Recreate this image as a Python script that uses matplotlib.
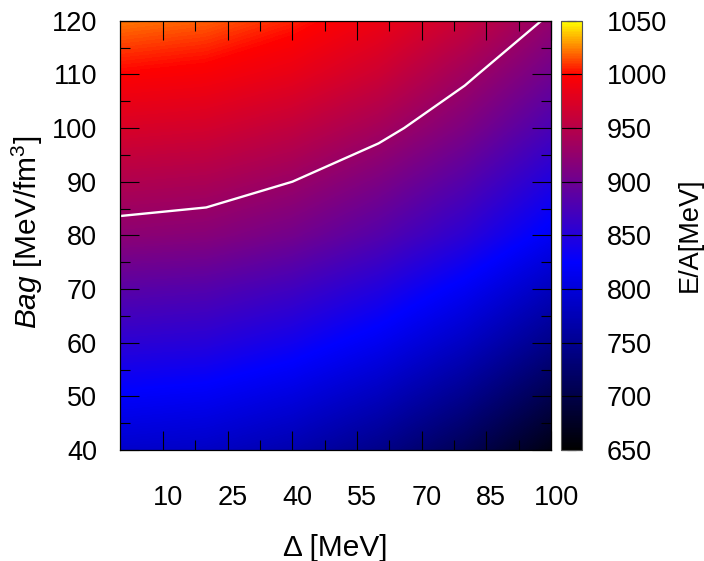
import numpy as np
import matplotlib
matplotlib.use("Agg")
import matplotlib.pyplot as plt
import matplotlib.transforms as mtransforms
from matplotlib.colors import LinearSegmentedColormap

# ---- data ----
delta = [0, 20, 40, 60, 80, 100]                      # Δ [MeV]
bag = [40, 50, 60, 70, 80, 90, 100, 110, 120]         # Bag [MeV/fm^3]
# E/A [MeV], one row per Bag value, columns follow delta
energy_b40 = [790, 785, 770, 745, 709, 664]
energy_b50 = [822, 817, 803, 780, 747, 704]
energy_b60 = [855, 851, 837, 815, 784, 744]
energy_b70 = [886, 882, 869, 848, 818, 780]
energy_b80 = [921, 917, 904, 883, 855, 818]
energy_b90 = [946, 942, 930, 910, 883, 847]
energy_b100 = [973, 969, 957, 938, 911, 876]
energy_b110 = [999, 995, 984, 965, 935, 902]
energy_b120 = [1023, 1018, 1006, 988, 962, 926]
contour_levels = [930]

x_ticks = [10, 25, 40, 55, 70, 85, 100]
y_ticks = [40, 50, 60, 70, 80, 90, 100, 110, 120]
cb_ticks = [650, 700, 750, 800, 850, 900, 950, 1000, 1050]

plt.rcParams['font.family'] = ['Liberation Sans', 'DejaVu Sans']
plt.rcParams['mathtext.fontset'] = 'custom'
plt.rcParams['mathtext.rm'] = 'Liberation Sans'
plt.rcParams['mathtext.it'] = 'Liberation Sans:italic'

E = np.array([energy_b40, energy_b50, energy_b60, energy_b70, energy_b80,
              energy_b90, energy_b100, energy_b110, energy_b120], dtype=float)

vmin, vmax = cb_ticks[0], cb_ticks[-1]
def pos(v):
    return (v - vmin) / (vmax - vmin)
cmap = LinearSegmentedColormap.from_list(
    'gp', [(0.0, 'black'), (pos(825), 'blue'), (pos(1000), 'red'), (1.0, 'yellow')])

W, H = 704, 561
TICK_FS = 19.5
fig = plt.figure(figsize=(W / 100, H / 100), dpi=100)
ax = fig.add_axes([120 / W, 111 / H, 431 / W, 429.3 / H])

hx = (delta[1] - delta[0]) / 2
hy = (bag[1] - bag[0]) / 2
im = ax.imshow(E, origin='lower', aspect='auto', cmap=cmap, vmin=vmin, vmax=vmax,
               extent=[delta[0] - hx, delta[-1] + hx, bag[0] - hy, bag[-1] + hy],
               interpolation='bilinear', interpolation_stage='data')
ax.contour(delta, bag, E, levels=contour_levels, colors='white', linewidths=1.7)

ax.set_xlim(delta[0], delta[-1])
ax.set_ylim(bag[0], bag[-1])
ax.set_xticks(x_ticks)
ax.set_xticks([(a + b) / 2 for a, b in zip(x_ticks[:-1], x_ticks[1:])], minor=True)
ax.set_yticks(y_ticks)
ax.set_yticks([(a + b) / 2 for a, b in zip(y_ticks[:-1], y_ticks[1:])], minor=True)
ax.tick_params(which='both', direction='in', top=True, right=True, color='black',
               width=0.8, labelsize=TICK_FS)
ax.tick_params(which='major', length=13.5)
ax.tick_params(which='minor', length=7)
ax.tick_params(axis='x', pad=25)
ax.tick_params(axis='y', pad=16.5)
for sp in ax.spines.values():
    sp.set_linewidth(0.9)

off = mtransforms.ScaledTranslation(0.05, 0, fig.dpi_scale_trans)
for lab in ax.get_xticklabels():
    lab.set_transform(lab.get_transform() + off)

cax = fig.add_axes([561 / W, 111 / H, 21 / W, 429.3 / H])
cb = fig.colorbar(im, cax=cax, ticks=cb_ticks)
cb.minorticks_off()
cb.outline.set_linewidth(0.8)
cb.outline.set_edgecolor('#555555')
cax.tick_params(direction='in', left=True, right=True, length=11, width=0.8,
                color='black', labelsize=TICK_FS, pad=18)

fig.text(335 / W, 1 - 548 / H, 'Δ [MeV]', ha='center', va='center', fontsize=21.5)
fig.text(27 / W, 1 - 232 / H, r'$\it{Bag}$ [MeV/fm$^3$]', ha='center', va='center',
         rotation=90, fontsize=21.5)
fig.text(690 / W, 1 - 235 / H, 'E/A[MeV]', ha='center', va='center', rotation=90,
         fontsize=19.5)

fig.savefig('out.png', dpi=100)
